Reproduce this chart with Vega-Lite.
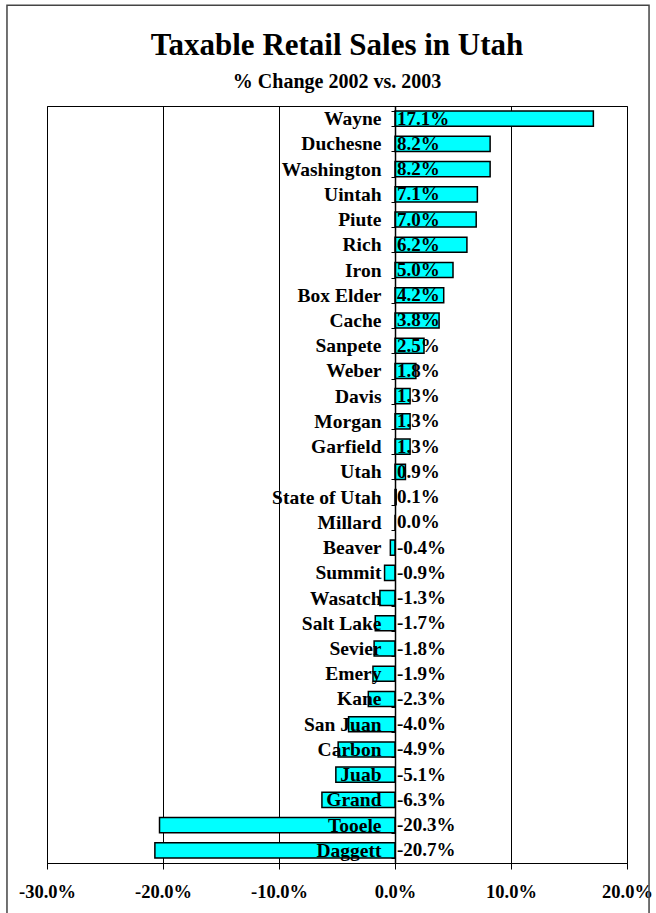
{
  "$schema": "https://vega.github.io/schema/vega-lite/v6.json",
  "width": 580,
  "height": 757,
  "autosize": {"type": "none"},
  "padding": {"left": 47, "top": 106, "right": 29, "bottom": 50},
  "background": "white",
  "title": {
    "text": "Taxable Retail Sales in Utah",
    "subtitle": "% Change 2002 vs. 2003",
    "font": "Liberation Serif",
    "fontSize": 31,
    "fontWeight": "bold",
    "color": "black",
    "subtitleFont": "Liberation Serif",
    "subtitleFontSize": 20,
    "subtitleFontWeight": "bold",
    "subtitleColor": "black",
    "subtitlePadding": 10,
    "offset": -88,
    "anchor": "middle",
    "frame": "group"
  },
  "config": {
    "view": {"stroke": "black", "strokeWidth": 1},
    "locale": {"number": {"decimal": ".", "thousands": ",", "grouping": [3], "currency": ["$", ""], "minus": "-"}}
  },
  "data": {
    "values": [
      {"name": "Wayne", "v": 0.171},
      {"name": "Duchesne", "v": 0.082},
      {"name": "Washington", "v": 0.082},
      {"name": "Uintah", "v": 0.071},
      {"name": "Piute", "v": 0.070},
      {"name": "Rich", "v": 0.062},
      {"name": "Iron", "v": 0.050},
      {"name": "Box Elder", "v": 0.042},
      {"name": "Cache", "v": 0.038},
      {"name": "Sanpete", "v": 0.025},
      {"name": "Weber", "v": 0.018},
      {"name": "Davis", "v": 0.013},
      {"name": "Morgan", "v": 0.013},
      {"name": "Garfield", "v": 0.013},
      {"name": "Utah", "v": 0.009},
      {"name": "State of Utah", "v": 0.001},
      {"name": "Millard", "v": 0.0},
      {"name": "Beaver", "v": -0.004},
      {"name": "Summit", "v": -0.009},
      {"name": "Wasatch", "v": -0.013},
      {"name": "Salt Lake", "v": -0.017},
      {"name": "Sevier", "v": -0.018},
      {"name": "Emery", "v": -0.019},
      {"name": "Kane", "v": -0.023},
      {"name": "San Juan", "v": -0.040},
      {"name": "Carbon", "v": -0.049},
      {"name": "Juab", "v": -0.051},
      {"name": "Grand", "v": -0.063},
      {"name": "Tooele", "v": -0.203},
      {"name": "Daggett", "v": -0.207}
    ]
  },
  "layer": [
    {
      "layer": [
        {
          "mark": {"type": "bar", "fill": "#00FFFF", "stroke": "black", "strokeWidth": 1.5},
          "encoding": {
            "x": {
              "field": "v",
              "type": "quantitative",
              "scale": {"domain": [-0.3, 0.2], "nice": false},
              "axis": {
                "values": [-0.3, -0.2, -0.1, 0, 0.1, 0.2],
                "format": ".1%",
                "title": null,
                "grid": true,
                "gridColor": "black",
                "gridWidth": 1,
                "gridOpacity": 1,
                "domainColor": "black",
                "domainWidth": 1,
                "tickColor": "black",
                "tickSize": 6,
                "tickWidth": 1,
                "labelFont": "Liberation Serif",
                "labelFontSize": 18.5,
                "labelFontWeight": "bold",
                "labelColor": "black",
                "labelPadding": 13,
                "labelFlush": false,
                "labelOverlap": false
              }
            },
            "y": {
              "field": "name",
              "type": "nominal",
              "sort": null,
              "scale": {"paddingInner": 0.4, "paddingOuter": 0.2},
              "axis": {
                "title": null,
                "orient": "left",
                "offset": -348,
                "grid": false,
                "tickBand": "extent",
                "tickSize": 4,
                "tickColor": "black",
                "tickWidth": 1,
                "domainColor": "black",
                "domainWidth": 1.5,
                "labelFont": "Liberation Serif",
                "labelFontSize": 19.5,
                "labelFontWeight": "bold",
                "labelColor": "black",
                "labelPadding": 10,
                "labelOverlap": false,
                "labelBound": false,
                "zindex": 1
              }
            }
          }
        },
        {
          "mark": {"type": "text", "align": "left", "baseline": "middle", "dx": 2, "font": "Liberation Serif", "fontSize": 19, "fontWeight": "bold", "color": "black"},
          "encoding": {
            "x": {"datum": 0, "type": "quantitative"},
            "y": {"field": "name", "type": "nominal", "sort": null},
            "text": {"field": "v", "type": "quantitative", "format": ".1%"}
          }
        }
      ]
    },
    {
      "data": {"values": [{}]},
      "mark": {"type": "rect", "fill": null, "stroke": "#444444", "strokeWidth": 1.5, "clip": false},
      "encoding": {
        "x": {"datum": -0.069, "type": "quantitative", "scale": {"domain": [0, 1], "nice": false, "zero": false}, "axis": null},
        "x2": {"datum": 1.038},
        "y": {"datum": 1.133, "type": "quantitative", "scale": {"domain": [0, 1], "nice": false, "zero": false}, "axis": null},
        "y2": {"datum": -0.08}
      }
    }
  ],
  "resolve": {"scale": {"x": "independent", "y": "independent"}, "axis": {"x": "independent", "y": "independent"}}
}
